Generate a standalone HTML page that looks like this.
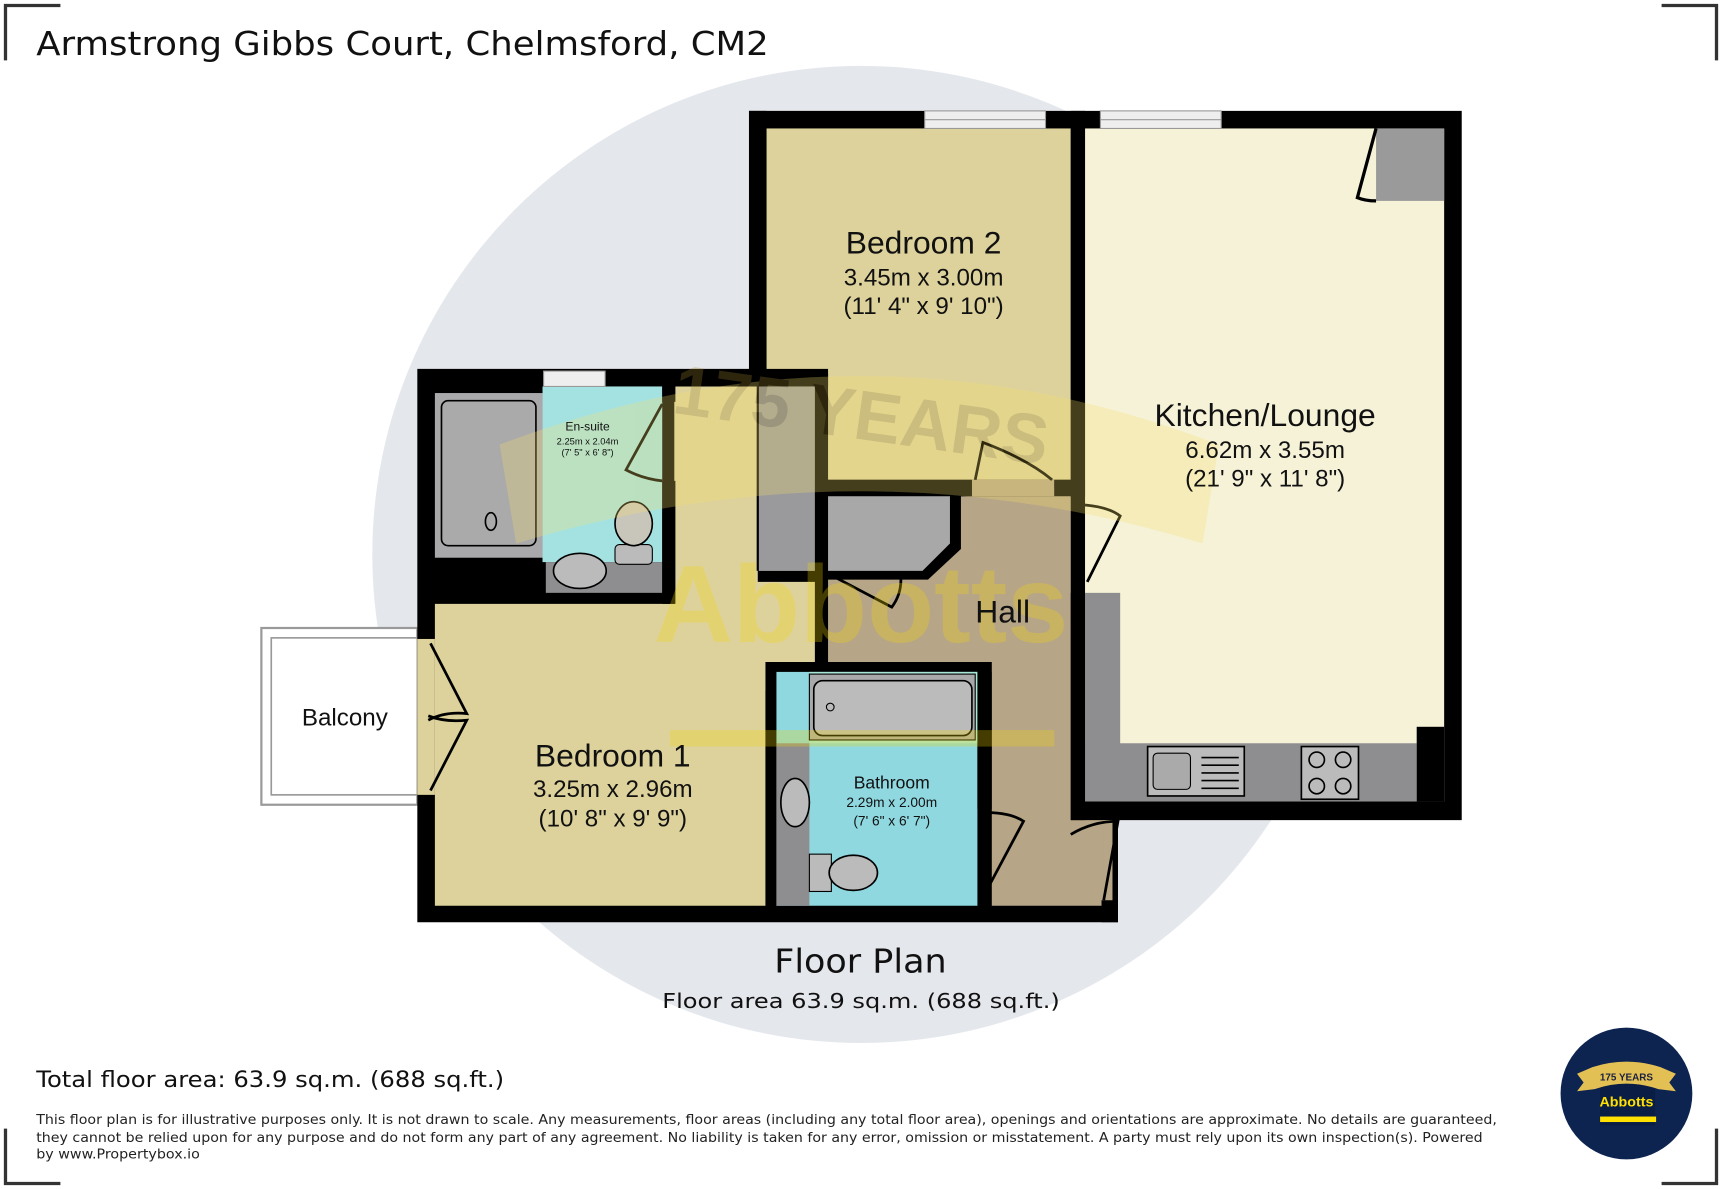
<!DOCTYPE html>
<html><head><meta charset="utf-8"><style>
html,body{margin:0;padding:0;background:#fff;}
svg{display:block}
text{font-family:"Liberation Sans",sans-serif;}
.dv{font-family:"DejaVu Sans","Liberation Sans",sans-serif;}
</style></head><body>
<svg width="1722" height="1189" viewBox="0 0 1568 1083" preserveAspectRatio="none" xmlns="http://www.w3.org/2000/svg">
<rect width="1568" height="1083" fill="#fff"/>
<g stroke="#333" stroke-width="3" fill="none">
<path d="M5,55 V5 H55"/><path d="M1513,5 H1563 V55"/><path d="M5,1028 V1078 H55"/><path d="M1513,1078 H1563 V1028"/>
</g>
<text class="dv" x="33" y="50" font-size="30" fill="#111" textLength="667" lengthAdjust="spacingAndGlyphs">Armstrong Gibbs Court, Chelmsford, CM2</text>
<circle cx="784" cy="505" r="445" fill="#e4e7ec"/>
<rect x="238" y="572" width="142" height="161" fill="#fff" stroke="#999" stroke-width="2"/>
<rect x="247" y="581" width="133" height="143" fill="#fff" stroke="#999" stroke-width="1.5"/>
<text x="314" y="661" font-size="22" text-anchor="middle" fill="#111">Balcony</text>
<path d="M682,101 H1331 V747 H1018 V840 H380 V336 H682 Z" fill="#000"/>
<rect x="697" y="117" width="278" height="320" fill="#ddd29c"/>
<rect x="988" y="117" width="327" height="613" fill="#f6f2d8"/>
<rect x="1253" y="117" width="62" height="66" fill="#9a9a9a"/>
<path d="M1253,117 L1236,180 Q1243,183 1253,183" fill="none" stroke="#000" stroke-width="3"/>
<rect x="988" y="540" width="32" height="190" fill="#8e8e90"/>
<rect x="988" y="677" width="302" height="53" fill="#8e8e90"/>
<rect x="1290" y="662" width="25" height="68" fill="#000"/>
<rect x="1045" y="680" width="88" height="45" fill="#bbb" stroke="#000" stroke-width="1.5"/>
<rect x="1050" y="686" width="34" height="33" rx="4" fill="#aaa" stroke="#000"/>
<g stroke="#000" stroke-width="1.5"><line x1="1094" y1="690" x2="1128" y2="690"/><line x1="1094" y1="697" x2="1128" y2="697"/><line x1="1094" y1="704" x2="1128" y2="704"/><line x1="1094" y1="711" x2="1128" y2="711"/><line x1="1094" y1="718" x2="1128" y2="718"/></g>
<rect x="1185" y="680" width="52" height="48" fill="#bbb" stroke="#000" stroke-width="1.5"/>
<g fill="none" stroke="#000" stroke-width="1.5"><circle cx="1199" cy="692" r="7"/><circle cx="1223" cy="692" r="7"/><circle cx="1199" cy="716" r="7"/><circle cx="1223" cy="716" r="7"/></g>
<path d="M752,452 H960 V445 H975 V747 H1018 V825 H903 V603 H752 Z" fill="#b6a587"/>
<rect x="885" y="437" width="75" height="15" fill="#b6a587"/>
<path d="M752,445 H865 V495 L840,520 H752 Z" fill="#a8a8a8"/>
<path d="M865,445 H875 V500 L845,528 H752 V520 H840 L865,495 Z" fill="#000"/>
<path d="M396,550 H614 V352 H742 V520 H752 V603 H697 V825 H396 Z" fill="#ddd29c"/>
<rect x="690" y="352" width="52" height="168" fill="#9a9a9c"/>
<line x1="690" y1="352" x2="690" y2="520" stroke="#000" stroke-width="2"/>
<rect x="742" y="340" width="12" height="265" fill="#000"/>
<rect x="682" y="336" width="72" height="16" fill="#000"/>
<rect x="690" y="520" width="62" height="10" fill="#000"/>
<rect x="396" y="352" width="207" height="188" fill="#000"/>
<rect x="494" y="352" width="109" height="160" fill="#a4e2e2"/>
<rect x="396" y="358" width="98" height="150" fill="#a9a9ab"/>
<rect x="402" y="365" width="86" height="132" rx="6" fill="#aaa" stroke="#000" stroke-width="1.5"/>
<ellipse cx="447" cy="475" rx="5" ry="8" fill="none" stroke="#000" stroke-width="1.5"/>
<rect x="497" y="512" width="106" height="28" fill="#8e8e90"/>
<ellipse cx="528" cy="520" rx="24" ry="16" fill="#bbb" stroke="#000" stroke-width="1.5"/>
<rect x="560" y="496" width="34" height="18" rx="4" fill="#bbb" stroke="#000"/>
<ellipse cx="577" cy="477" rx="17" ry="20" fill="#c8c5bb" stroke="#000" stroke-width="1.5"/>
<rect x="603" y="352" width="12" height="14" fill="#000"/>
<rect x="603" y="438" width="12" height="112" fill="#000"/>
<path d="M603,368 L570,428 Q585,436 603,438" fill="none" stroke="#000" stroke-width="2.5"/>
<rect x="495" y="338" width="56" height="14" fill="#eee" stroke="#999"/>
<path d="M697,630 L720,603 H903 V825 H697 Z" fill="#000"/>
<rect x="707" y="612" width="183" height="213" fill="#8fd8e0"/>
<rect x="737" y="612" width="153" height="65" fill="#a8e6d8"/>
<rect x="737" y="614" width="151" height="60" fill="#a9a9ab" stroke="#000" stroke-width="1"/>
<rect x="741" y="620" width="144" height="50" rx="8" fill="#bbb" stroke="#000" stroke-width="1.5"/>
<circle cx="756" cy="644" r="3.5" fill="none" stroke="#000"/>
<rect x="707" y="677" width="30" height="148" fill="#8e8e90"/>
<ellipse cx="724" cy="731" rx="13" ry="22" fill="#bbb" stroke="#000" stroke-width="1.5"/>
<rect x="737" y="778" width="20" height="34" fill="#bbb" stroke="#000"/>
<ellipse cx="777" cy="795" rx="22" ry="16" fill="#bbb" stroke="#000" stroke-width="1.5"/>
<rect x="890" y="612" width="13" height="125" fill="#000"/>
<path d="M895,740 Q920,740 932,748 L900,808" fill="none" stroke="#000" stroke-width="2.5"/>
<rect x="682" y="101" width="16" height="250" fill="#000"/>
<rect x="975" y="101" width="13" height="352" fill="#000"/>
<rect x="975" y="540" width="13" height="207" fill="#000"/>
<rect x="752" y="437" width="133" height="15" fill="#000"/>
<rect x="960" y="437" width="28" height="15" fill="#000"/>
<path d="M888,437 L895,403 Q935,418 958,437" fill="none" stroke="#000" stroke-width="2.5"/>
<path d="M988,460 Q1010,462 1020,470 L990,530" fill="none" stroke="#000" stroke-width="2.5"/>
<path d="M757,524 L812,553 Q822,540 820,522" fill="none" stroke="#000" stroke-width="2.5"/>
<rect x="1005" y="747" width="13" height="78" fill="#b6a587"/>
<rect x="1003" y="820" width="15" height="20" fill="#000"/>
<path d="M975,760 Q995,748 1018,748 L1005,820" fill="none" stroke="#000" stroke-width="2.5"/>
<rect x="1013" y="747" width="5" height="75" fill="#000"/>
<rect x="842" y="101" width="110" height="16" fill="#eee" stroke="#999"/>
<line x1="842" y1="109" x2="952" y2="109" stroke="#999"/>
<rect x="1002" y="101" width="110" height="16" fill="#eee" stroke="#999"/>
<line x1="1002" y1="109" x2="1112" y2="109" stroke="#999"/>
<rect x="380" y="582" width="16" height="142" fill="#ddd29c"/>
<path d="M392,586 L425,650 Q405,648 390,656" fill="none" stroke="#000" stroke-width="2.5"/>
<path d="M392,720 L425,656 Q405,658 390,652" fill="none" stroke="#000" stroke-width="2.5"/>
<!-- watermark overlay -->
<g opacity="0.28">
<path d="M455,405 Q784,280 1110,405 L1095,495 Q784,400 470,495 Z" fill="#f7de6a"/>
<text x="784" y="400" font-size="64" font-family="Liberation Serif,serif" font-weight="bold" text-anchor="middle" fill="#a08a30" transform="rotate(8 784 380)">175 YEARS</text>
<text x="784" y="585" font-size="100" font-weight="bold" text-anchor="middle" fill="#f5d800">Abbotts</text>
<rect x="610" y="665" width="350" height="15" fill="#f5d800"/>
</g>
<text x="535" y="392" font-size="11" text-anchor="middle" fill="#111">En-suite</text>
<text x="535" y="405" font-size="8.5" text-anchor="middle" fill="#111">2.25m x 2.04m</text>
<text x="535" y="415" font-size="8.5" text-anchor="middle" fill="#111">(7' 5" x 6' 8")</text>
<text x="812" y="718" font-size="16" text-anchor="middle" fill="#111">Bathroom</text>
<text x="812" y="735" font-size="12.5" text-anchor="middle" fill="#111">2.29m x 2.00m</text>
<text x="812" y="752" font-size="12.5" text-anchor="middle" fill="#111">(7' 6" x 6' 7")</text>
<text x="841" y="231" font-size="29" text-anchor="middle" fill="#111">Bedroom 2</text>
<text x="841" y="260" font-size="22" text-anchor="middle" fill="#111">3.45m x 3.00m</text>
<text x="841" y="286" font-size="22" text-anchor="middle" fill="#111">(11' 4" x 9' 10")</text>
<text x="1152" y="388" font-size="29" text-anchor="middle" fill="#111">Kitchen/Lounge</text>
<text x="1152" y="417" font-size="22" text-anchor="middle" fill="#111">6.62m x 3.55m</text>
<text x="1152" y="443" font-size="22" text-anchor="middle" fill="#111">(21' 9" x 11' 8")</text>
<text x="913" y="567" font-size="29" text-anchor="middle" fill="#111">Hall</text>
<text x="558" y="698" font-size="29" text-anchor="middle" fill="#111">Bedroom 1</text>
<text x="558" y="726" font-size="22" text-anchor="middle" fill="#111">3.25m x 2.96m</text>
<text x="558" y="753" font-size="22" text-anchor="middle" fill="#111">(10' 8" x 9' 9")</text>
<text class="dv" x="705" y="886" font-size="30" fill="#111" textLength="157" lengthAdjust="spacingAndGlyphs">Floor Plan</text>
<text class="dv" x="603" y="918" font-size="19" fill="#111" textLength="362" lengthAdjust="spacingAndGlyphs">Floor area 63.9 sq.m. (688 sq.ft.)</text>
<text class="dv" x="33" y="990" font-size="20" fill="#111" textLength="426" lengthAdjust="spacingAndGlyphs">Total floor area: 63.9 sq.m. (688 sq.ft.)</text>
<text class="dv" x="33" y="1024" font-size="12.5" fill="#222" textLength="1330" lengthAdjust="spacingAndGlyphs">This floor plan is for illustrative purposes only. It is not drawn to scale. Any measurements, floor areas (including any total floor area), openings and orientations are approximate. No details are guaranteed,</text>
<text class="dv" x="33" y="1040" font-size="12.5" fill="#222" textLength="1317" lengthAdjust="spacingAndGlyphs">they cannot be relied upon for any purpose and do not form any part of any agreement. No liability is taken for any error, omission or misstatement. A party must rely upon its own inspection(s). Powered</text>
<text class="dv" x="33" y="1055" font-size="12.5" fill="#222" textLength="149" lengthAdjust="spacingAndGlyphs">by www.Propertybox.io</text>
<circle cx="1481" cy="996" r="60" fill="#0d2350"/>
<rect x="1457" y="975" width="50" height="50" fill="#0a1d45"/>
<path d="M1436,978 L1450,972 Q1481,962 1512,972 L1526,978 L1520,986 L1526,994 L1510,992 Q1481,982 1452,992 L1436,994 L1442,986 Z" fill="#e3c053"/>
<text x="1481" y="984" font-size="9" font-family="Liberation Serif,serif" font-weight="bold" text-anchor="middle" fill="#1a2040">175 YEARS</text>
<text x="1481" y="1008" font-size="13" font-weight="bold" text-anchor="middle" fill="#ffe000">Abbotts</text>
<rect x="1457" y="1017" width="51" height="5" fill="#ffe000"/>
</svg>
</body></html>
